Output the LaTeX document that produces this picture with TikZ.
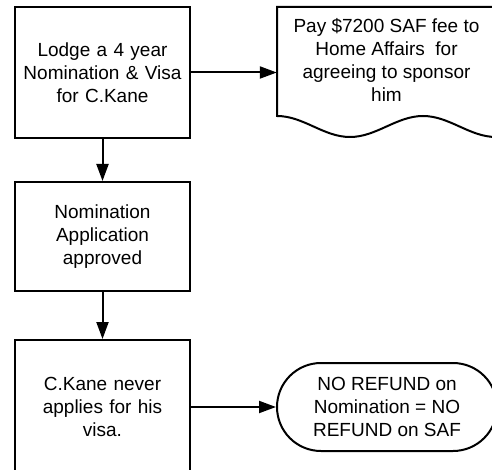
\documentclass[tikz,border=0pt]{standalone}
\usepackage{fontspec}
\setmainfont{Liberation Sans}
\usetikzlibrary{arrows.meta}
\begin{document}
\begin{tikzpicture}[x=1pt,y=-1pt,
  lbl/.style={font=\fontsize{19}{23}\selectfont, align=center},
  box/.style={lbl, draw, line width=2pt, minimum width=175pt, text width=170pt, inner sep=0pt},
  term/.style={lbl, draw, line width=2pt, minimum width=220pt, minimum height=88pt, rounded corners=44pt, inner sep=0pt},
  shapeline/.style={line width=2pt},
  flow/.style={line width=2pt, -{Triangle[length=17pt,width=12pt]}}]
\useasboundingbox (0,0) rectangle (492,470);
\clip (0,0) rectangle (492,470);
\fill[white] (0,0) rectangle (492,470);
% boxes
\node[box, minimum height=131pt] (lodge) at (102.5,72.5) {Lodge a 4 year\\Nomination \& Visa\\for C.Kane};
\node[box, minimum height=109pt] (approved) at (102.5,236.5) {Nomination\\Application\\approved};
\node[box, minimum height=134pt] (never) at (102.5,407) {C.Kane never\\applies for his\\visa.};
% document shape
\node[minimum width=219pt, minimum height=131pt, inner sep=0pt] (doc) at (386.5,72.5) {};
\draw[shapeline] (277,7) -- (277,116)
  cos (313.5,126.5) sin (350,137) cos (386.5,126.5) sin (423,116)
  cos (459.5,126.5) sin (496,137) -- (496,7) -- cycle;
\node[lbl] (doctext) at (386.5,60) {Pay \$7200 SAF fee to\\Home Affairs~ for\\agreeing to sponsor\\him};
% terminal
\node[term] (refund) at (387,407) {NO REFUND on\\Nomination = NO\\REFUND on SAF};
% connectors
\draw[flow] (lodge) -- (doc);
\draw[flow] (lodge) -- (approved);
\draw[flow] (approved) -- (never);
\draw[flow] (never) -- (refund);
\end{tikzpicture}
\end{document}
